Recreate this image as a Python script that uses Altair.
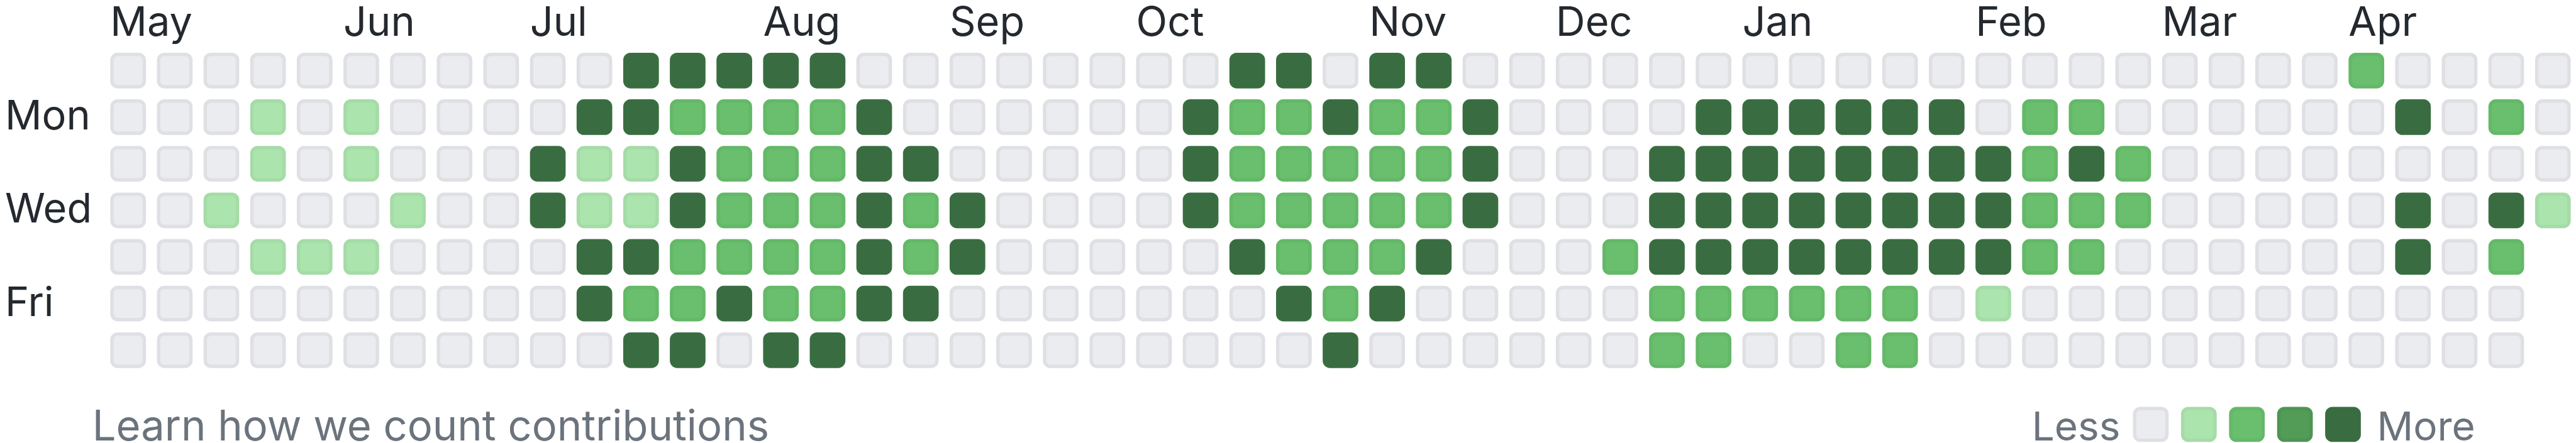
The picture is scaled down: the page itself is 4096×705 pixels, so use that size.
import altair as alt
import pandas as pd

# contribution levels (0 = none ... 4 = most), one list per weekday, one value per week
sun = [0,0,0,0,0,0,0,0,0,0,0,4,4,4,4,4,0,0,0,0,0,0,0,0,4,4,0,4,4,0,0,0,0,0,0,0,0,0,0,0,0,0,0,0,0,0,0,0,2,0,0,0,0]
mon = [0,0,0,1,0,1,0,0,0,0,4,4,2,2,2,2,4,0,0,0,0,0,0,4,2,2,4,2,2,4,0,0,0,0,4,4,4,4,4,4,0,2,2,0,0,0,0,0,0,4,0,2,0]
tue = [0,0,0,1,0,1,0,0,0,4,1,1,4,2,2,2,4,4,0,0,0,0,0,4,2,2,2,2,2,4,0,0,0,4,4,4,4,4,4,4,4,2,4,2,0,0,0,0,0,0,0,0,0]
wed = [0,0,1,0,0,0,1,0,0,4,1,1,4,2,2,2,4,2,4,0,0,0,0,4,2,2,2,2,2,4,0,0,0,4,4,4,4,4,4,4,4,2,2,2,0,0,0,0,0,4,0,4,1]
thu = [0,0,0,1,1,1,0,0,0,0,4,4,2,2,2,2,4,2,4,0,0,0,0,0,4,2,2,2,4,0,0,0,2,4,4,4,4,4,4,4,4,2,2,0,0,0,0,0,0,4,0,2]
fri = [0,0,0,0,0,0,0,0,0,0,4,2,2,4,2,2,4,4,0,0,0,0,0,0,0,4,2,4,0,0,0,0,0,2,2,2,2,2,2,0,1,0,0,0,0,0,0,0,0,0,0,0]
sat = [0,0,0,0,0,0,0,0,0,0,0,4,4,0,4,4,0,0,0,0,0,0,0,0,0,0,4,0,0,0,0,0,0,2,2,0,0,2,2,0,0,0,0,0,0,0,0,0,0,0,0,0]
week_rows = [sun, mon, tue, wed, thu, fri, sat]

month_names = ["May", "Jun", "Jul", "Aug", "Sep", "Oct", "Nov", "Dec", "Jan", "Feb", "Mar", "Apr"]
month_weeks = [0, 5, 9, 14, 18, 22, 27, 31, 35, 40, 44, 48]
day_names = ["Mon", "Wed", "Fri"]
day_rows = [1, 3, 5]
levels = [0, 1, 2, 3, 4]

fills = ["#ebecf0", "#ace4ae", "#69bf6d", "#529c57", "#396d41"]
strokes = ["#dfe0e4", "#a5dba7", "#64b868", "#4e9553", "#396d41"]
FONT = "Inter"
DARK = "#24292f"
GRAY = "#6b737c"

cells = pd.DataFrame(
    [{"week": c, "day": r, "level": v} for r, arr in enumerate(week_rows) for c, v in enumerate(arr)]
)
months = pd.DataFrame({"name": month_names, "week": month_weeks})
days = pd.DataFrame({"name": day_names, "day": day_rows})
legend = pd.DataFrame({"level": levels})

xs = alt.Scale(domain=[0, 52], range=[196.1, 4059.2], nice=False, zero=False)
ys = alt.Scale(domain=[0, 6], range=[103.8, 549.7], nice=False, zero=False)
fill_scale = alt.Scale(domain=levels, range=fills)
stroke_scale = alt.Scale(domain=levels, range=strokes)
H = 0.346

grid = alt.Chart(cells).transform_calculate(
    x1=f"datum.week - {H}", x2=f"datum.week + {H}",
    y1=f"datum.day - {H}", y2=f"datum.day + {H}",
).mark_rect(cornerRadius=9, strokeWidth=5.4).encode(
    x=alt.X("x1:Q", scale=xs, axis=None),
    x2="x2:Q",
    y=alt.Y("y1:Q", scale=ys, axis=None),
    y2="y2:Q",
    fill=alt.Fill("level:O", scale=fill_scale, legend=None),
    stroke=alt.Stroke("level:O", scale=stroke_scale, legend=None),
)

month_text = alt.Chart(months).mark_text(
    font=FONT, fontSize=65, color=DARK, align="left", baseline="alphabetic", dx=-28.4
).encode(
    x=alt.X("week:Q", scale=xs, axis=None),
    y=alt.value(48),
    text="name:N",
)

day_text = alt.Chart(days).mark_text(
    font=FONT, fontSize=65, color=DARK, align="left", baseline="alphabetic", dy=19.5
).encode(
    x=alt.value(0),
    y=alt.Y("day:Q", scale=ys, axis=None),
    text="name:N",
)

footer = alt.Chart(pd.DataFrame({"t": ["Learn how we count contributions"]})).mark_text(
    font=FONT, fontSize=67, color=GRAY, align="left", baseline="alphabetic"
).encode(x=alt.value(139), y=alt.value(694), text="t:N")

ls = alt.Scale(domain=[0, 4], range=[3418.6, 3724.8], nice=False, zero=False)
LH = 0.336
legend_cells = alt.Chart(legend).transform_calculate(
    x1=f"datum.level - {LH}", x2=f"datum.level + {LH}"
).mark_rect(cornerRadius=9, strokeWidth=5.4).encode(
    x=alt.X("x1:Q", scale=ls, axis=None),
    x2="x2:Q",
    y=alt.value(642.7),
    y2=alt.value(693.3),
    fill=alt.Fill("level:O", scale=fill_scale, legend=None),
    stroke=alt.Stroke("level:O", scale=stroke_scale, legend=None),
)

less = alt.Chart(pd.DataFrame({"t": ["Less"]})).mark_text(
    font=FONT, fontSize=64, color=GRAY, align="right", baseline="alphabetic"
).encode(x=alt.value(3370), y=alt.value(694), text="t:N")

more = alt.Chart(pd.DataFrame({"t": ["More"]})).mark_text(
    font=FONT, fontSize=64, color=GRAY, align="left", baseline="alphabetic"
).encode(x=alt.value(3779), y=alt.value(694), text="t:N")

chart = alt.layer(
    grid, month_text, day_text, footer, legend_cells, less, more
).resolve_scale(
    x="independent", y="independent", fill="shared", stroke="shared"
).properties(
    width=4088, height=697, padding=0,
    autosize=alt.AutoSizeParams(type="none"),
    background="white",
).configure_view(strokeWidth=0)

chart.save("out.html", embed_options={"renderer": "svg", "actions": False})
